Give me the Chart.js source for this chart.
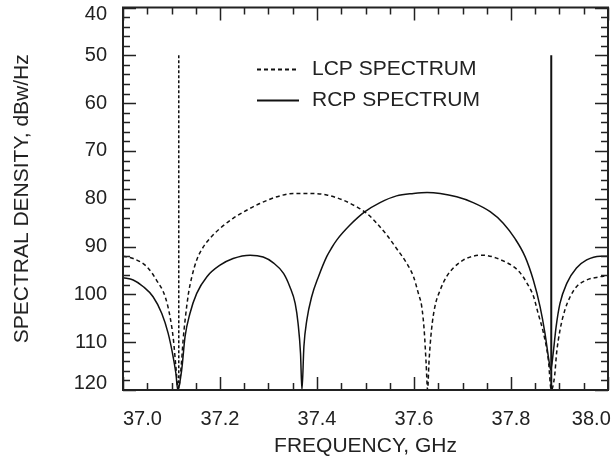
<!DOCTYPE html>
<html>
<head>
<meta charset="utf-8">
<script src="https://cdn.jsdelivr.net/npm/chart.js@4"></script>
<style>
  body { margin: 0; background: #fff; }
  #wrap { width: 613px; height: 468px; }
</style>
</head>
<body>
<div id="wrap"><canvas id="chart" width="613" height="468"></canvas></div>
<script>
// axis ranges (GHz / dBw/Hz)
var freqMin = 37.0, freqMax = 38.0;
var levelMin = 40, levelMax = 120;

// LCP spectrum (dashed)
var lcpFreq = [37.000, 37.021, 37.049, 37.069, 37.087, 37.097, 37.104, 37.109, 37.114, 37.120,
               37.124, 37.128, 37.135, 37.142, 37.152, 37.166, 37.179, 37.200, 37.227, 37.255,
               37.282, 37.317, 37.351, 37.386, 37.420, 37.454, 37.482, 37.502, 37.523, 37.544,
               37.564, 37.585, 37.599, 37.609, 37.616, 37.621, 37.625, 37.628, 37.631, 37.636,
               37.643, 37.654, 37.667, 37.681, 37.702, 37.722, 37.743, 37.764, 37.784, 37.805,
               37.819, 37.832, 37.846, 37.856, 37.867, 37.877, 37.883, 37.890, 37.894, 37.901,
               37.911, 37.922, 37.935, 37.956, 37.984, 38.000];
var lcpLevel = [92.0, 92.5, 94.2, 97.0, 100.5, 104.7, 109.5, 115.1, 120, 115.0,
                109.5, 105.4, 99.8, 96.3, 92.8, 90.0, 88.3, 86.2, 84.1, 82.4,
                81.0, 79.6, 78.9, 78.9, 79.2, 80.3, 81.7, 83.0, 85.1, 87.6,
                90.4, 93.5, 96.3, 99.8, 102.6, 107.5, 114.4, 120, 114.0, 107.5,
                102.6, 99.1, 96.3, 94.5, 92.8, 92.0, 91.8, 92.2, 93.0, 94.2,
                95.5, 97.5, 100.3, 104.0, 108.1, 113.7, 120, 117.0, 112.3, 107.5,
                103.3, 100.5, 98.4, 97.0, 96.3, 96.0];

// RCP spectrum (solid)
var rcpFreq = [37.000, 37.021, 37.042, 37.062, 37.080, 37.093, 37.102, 37.109, 37.113, 37.121,
               37.128, 37.138, 37.152, 37.173, 37.200, 37.227, 37.262, 37.289, 37.310, 37.331,
               37.344, 37.355, 37.361, 37.366, 37.369, 37.373, 37.379, 37.389, 37.403, 37.420,
               37.430, 37.441, 37.468, 37.499, 37.530, 37.564, 37.599, 37.627, 37.654, 37.688,
               37.722, 37.757, 37.784, 37.808, 37.829, 37.846, 37.860, 37.870, 37.878, 37.882,
               37.887, 37.893, 37.901, 37.915, 37.935, 37.956, 37.984, 38.000];
var rcpLevel = [96.5, 97.0, 98.4, 100.5, 104.0, 108.1, 112.3, 116.5, 120, 115.8,
                108.8, 104.0, 99.8, 96.3, 93.9, 92.5, 91.8, 92.2, 93.4, 95.6,
                98.4, 101.9, 106.1, 112.3, 120, 110.9, 105.4, 100.5, 96.3, 92.1,
                90.3, 88.6, 85.5, 82.7, 80.8, 79.4, 78.9, 78.7, 78.9, 79.6,
                80.8, 82.7, 85.1, 88.3, 92.1, 97.0, 102.6, 108.1, 113.7, 115.8,
                112.3, 106.8, 101.9, 97.7, 94.5, 92.8, 92.0, 92.0];

// carrier lines
var lcpCarrier = 37.115, rcpCarrier = 37.883, carrierTop = 50;

var FONT = "'Liberation Sans', Arial, sans-serif";
var INK = '#111';

function pts(xs, ys) {
	return xs.map(function(x, i) { return {x: x, y: ys[i]}; });
}

// 안쪽 눈금 + 테두리
var frameTicks = {
	id: 'frameTicks',
	afterDatasetsDraw: function(chart) {
		var ctx = chart.ctx, a = chart.chartArea;
		var x = chart.scales.x, y = chart.scales.y;
		ctx.save();
		ctx.strokeStyle = '#222';
		ctx.lineWidth = 1.5;
		ctx.beginPath();
		for (var i = 0; i <= 20; i++) {
			var px = Math.round(x.getPixelForValue(freqMin + i * 0.05)) + 0.5;
			var len = (i % 4 === 0) ? 13 : 7;
			ctx.moveTo(px, a.bottom); ctx.lineTo(px, a.bottom - len);
			ctx.moveTo(px, a.top); ctx.lineTo(px, a.top + len);
		}
		for (var v = levelMin; v <= levelMax; v += 2) {
			var py = Math.round(y.getPixelForValue(v)) + 0.5;
			var l2 = (v % 10 === 0) ? 13 : 7;
			ctx.moveTo(a.left, py); ctx.lineTo(a.left + l2, py);
			ctx.moveTo(a.right, py); ctx.lineTo(a.right - l2, py);
		}
		ctx.stroke();
		ctx.lineWidth = 2;
		ctx.strokeRect(a.left, a.top, a.right - a.left, a.bottom - a.top);
		ctx.restore();
	}
};

// 범례 (차트 안쪽)
var innerLegend = {
	id: 'innerLegend',
	afterDraw: function(chart) {
		var ctx = chart.ctx, a = chart.chartArea;
		var x0 = a.left + 134, y0 = a.top + 62;
		ctx.save();
		ctx.font = '21px ' + FONT;
		ctx.textBaseline = 'middle';
		ctx.fillStyle = '#222';
		chart.data.datasets.filter(function(d) { return d.inLegend; }).forEach(function(d, i) {
			var yy = y0 + i * 31;
			ctx.strokeStyle = d.borderColor;
			ctx.lineWidth = 2;
			ctx.setLineDash(d.borderDash || []);
			ctx.beginPath();
			ctx.moveTo(x0, yy); ctx.lineTo(x0 + 42, yy);
			ctx.stroke();
			ctx.setLineDash([]);
			ctx.fillText(d.label, x0 + 55, yy);
		});
		ctx.restore();
	}
};

new Chart(document.getElementById('chart'), {
	type: 'line',
	data: {
		datasets: [{
			label: 'LCP SPECTRUM',
			inLegend: true,
			data: pts(lcpFreq, lcpLevel),
			borderColor: INK,
			borderWidth: 1.5,
			borderDash: [4, 3],
			cubicInterpolationMode: 'monotone',
			pointRadius: 0
		}, {
			label: 'RCP SPECTRUM',
			inLegend: true,
			data: pts(rcpFreq, rcpLevel),
			borderColor: INK,
			borderWidth: 1.5,
			cubicInterpolationMode: 'monotone',
			pointRadius: 0
		}, {
			label: 'LCP carrier',
			data: pts([lcpCarrier, lcpCarrier], [carrierTop, levelMax]),
			borderColor: INK,
			borderWidth: 1.5,
			borderDash: [3, 2],
			pointRadius: 0
		}, {
			label: 'RCP carrier',
			data: pts([rcpCarrier, rcpCarrier], [carrierTop, levelMax]),
			borderColor: INK,
			borderWidth: 2,
			pointRadius: 0
		}]
	},
	options: {
		responsive: false,
		animation: false,
		devicePixelRatio: 1,
		layout: { padding: { top: 7.5, right: 5, bottom: 0, left: 0 } },
		plugins: { legend: { display: false }, tooltip: { enabled: false } },
		scales: {
			x: {
				type: 'linear',
				min: freqMin,
				max: freqMax,
				grid: { display: false, drawTicks: false },
				border: { display: false },
				ticks: {
					stepSize: 0.2,
					autoSkip: false,
					maxRotation: 0,
					padding: 17,
					color: '#222',
					font: { family: FONT, size: 20 },
					callback: function(v) {
						var s = Number(v).toFixed(1);
						// 끝 라벨은 안쪽으로
						if (Math.abs(v - freqMin) < 1e-6) return '       ' + s;
						if (Math.abs(v - freqMax) < 1e-6) return s + '      ';
						return s;
					}
				},
				title: {
					display: true,
					text: 'FREQUENCY, GHz',
					color: '#222',
					font: { family: FONT, size: 21 },
					padding: { top: 0, bottom: 9 }
				},
				afterFit: function(s) { s.height = 78; s.paddingLeft = 0; s.paddingRight = 0; }
			},
			y: {
				min: levelMin,
				max: levelMax,
				reverse: true,
				grid: { display: false, drawTicks: false },
				border: { display: false },
				ticks: {
					stepSize: 10,
					padding: 16,
					color: '#222',
					font: { family: FONT, size: 20, lineHeight: 0.7 },
					callback: function(v) {
						// 위아래 끝 라벨은 안쪽으로
						if (v === levelMin) return ['', String(v)];
						if (v === levelMax) return [String(v), ''];
						return String(v);
					}
				},
				title: {
					display: true,
					text: 'SPECTRAL DENSITY, dBw/Hz',
					color: '#222',
					font: { family: FONT, size: 21 },
					padding: { top: 10, bottom: 0 }
				},
				afterFit: function(s) { s.width = 123; s.paddingTop = 0; s.paddingBottom = 0; }
			}
		}
	},
	plugins: [frameTicks, innerLegend]
});
</script>
</body>
</html>
